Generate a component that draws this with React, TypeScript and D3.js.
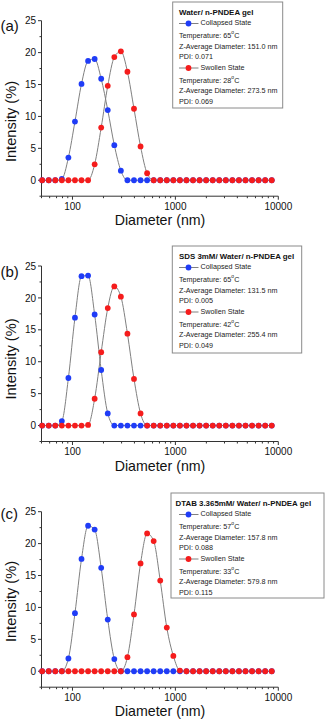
import React from 'react';
import * as d3 from 'd3';

// Malvern size bins (nm) shown on the plots
const SIZES = [50.75, 58.77, 68.06, 78.82, 91.28, 105.7, 122.4, 141.8, 164.2, 190.1, 220.2, 255.0,
  295.3, 342.0, 396.1, 458.7, 531.2, 615.1, 712.4, 825.0, 955.4, 1106, 1281, 1484, 1718, 1990,
  2305, 2669, 3091, 3580, 4145, 4801, 5560, 6439, 7456, 8635];

const COLLAPSED_A = [0, 0, 0, 0.2, 3.55, 9.2, 15.1, 18.7, 19.0, 15.9, 11.0, 5.5, 1.5, 0, 0, 0, 0, 0,
  0, 0, 0, 0, 0, 0, 0, 0, 0, 0, 0, 0, 0, 0, 0, 0, 0, 0];
const SWOLLEN_A = [0, 0, 0, 0, 0, 0, 0, 0, 2.5, 8.25, 14.8, 19.3, 20.2, 17.0, 11.2, 5.3, 1.1, 0,
  0, 0, 0, 0, 0, 0, 0, 0, 0, 0, 0, 0, 0, 0, 0, 0, 0, 0];
const COLLAPSED_B = [0, 0, 0, 0.7, 7.45, 16.9, 23.4, 23.5, 17.4, 8.7, 1.9, 0, 0, 0, 0, 0, 0, 0,
  0, 0, 0, 0, 0, 0, 0, 0, 0, 0, 0, 0, 0, 0, 0, 0, 0, 0];
const SWOLLEN_B = [0, 0, 0, 0, 0, 0, 0, 0.1, 4.2, 11.5, 18.4, 21.8, 20.2, 14.4, 7.3, 1.9, 0, 0,
  0, 0, 0, 0, 0, 0, 0, 0, 0, 0, 0, 0, 0, 0, 0, 0, 0, 0];
const COLLAPSED_C = [0, 0, 0, 0, 2.0, 9.1, 17.6, 22.8, 22.2, 16.2, 8.1, 1.9, 0, 0, 0, 0, 0, 0,
  0, 0, 0, 0, 0, 0, 0, 0, 0, 0, 0, 0, 0, 0, 0, 0, 0, 0];
const SWOLLEN_C = [0, 0, 0, 0, 0, 0, 0, 0, 0, 0, 0, 0, 0, 2.2, 8.9, 16.9, 21.6, 20.4, 14.2, 6.85,
  2.4, 0.1, 0, 0, 0, 0, 0, 0, 0, 0, 0, 0, 0, 0, 0, 0];

const PANEL_LABELS = ['(a)', '(b)', '(c)'];
const TITLES = ['Water/ n-PNDEA gel', 'SDS 3mM/ Water/ n-PNDEA gel', 'DTAB 3.365mM/ Water/ n-PNDEA gel'];
const SERIES_NAMES = ['Collapsed State', 'Swollen State'];
const TEMP_COLLAPSED = ['65', '65', '57'];
const ZAVG_COLLAPSED = ['151.0', '131.5', '157.8'];
const PDI_COLLAPSED = ['0.071', '0.005', '0.088'];
const TEMP_SWOLLEN = ['28', '42', '33'];
const ZAVG_SWOLLEN = ['273.5', '255.4', '579.8'];
const PDI_SWOLLEN = ['0.069', '0.049', '0.115'];
const Y_TICKS = [0, 5, 10, 15, 20, 25];
const X_TICKS = [100, 1000, 10000];

const BLUE = '#1f3cf7';
const RED = '#f51c1c';
const LINE = '#808080';
const AXIS = '#333';
const FONT = '"Liberation Sans", Arial, sans-serif';

// layout of each panel (top of y axis, legend box)
const LAYOUT = [
  { top: 20.7, labelY: 30.5, box: [172.7, 2, 110, 106], titleX: 179, xLabelDy: 29, yLabelY: 121.5 },
  { top: 266, labelY: 277, box: [172.3, 246, 129.4, 107], titleX: 179, xLabelDy: 29.7, yLabelY: 359 },
  { top: 511.7, labelY: 519, box: [171, 493, 153, 105], titleX: 175.5, xLabelDy: 28.6, yLabelY: 601.5 },
];

const DATA = [
  [COLLAPSED_A, SWOLLEN_A],
  [COLLAPSED_B, SWOLLEN_B],
  [COLLAPSED_C, SWOLLEN_C],
];

const LEG_OFF = [10.5, 21.5, 34, 44.8, 55.2, 66, 78.7, 89.3, 100];

function Temp({ x, y, t }: { x: number; y: number; t: string }) {
  return (
    <text x={x} y={y} fontSize={7.2} fill="#222" dominantBaseline="middle">
      Temperature: {t}
      <tspan fontSize={5} dy={-3}>o</tspan>
      <tspan dy={3}>C</tspan>
    </text>
  );
}

function Panel({ i }: { i: number }) {
  const L = LAYOUT[i];
  const x = d3.scaleLog().domain([50, 10000]).range([41.5, 278.3]);
  const y = d3.scaleLinear().domain([-2.5, 25]).range([L.top + 175.5, L.top]);
  const y0 = y(-2.5);
  const line = d3.line<number>()
    .x((_, j) => x(SIZES[j]))
    .y(d => y(d))
    .curve(d3.curveMonotoneX);

  const minorX: number[] = [];
  [10, 100, 1000].forEach(dec => {
    for (let k = 2; k <= 9; k++) {
      const v = dec * k;
      if (v >= 50 && v <= 10000) minorX.push(v);
    }
  });
  const minorY = [-2.5, 2.5, 7.5, 12.5, 17.5, 22.5];
  const [bx, by, bw, bh] = L.box;
  const tx = 179;
  const colors = [BLUE, RED];

  return (
    <g fontFamily={FONT}>
      <text x={0.5} y={L.labelY} fontSize={15} fill="#111">{PANEL_LABELS[i]}</text>

      {/* axes */}
      <line x1={x(50)} x2={x(50)} y1={y(25)} y2={y0} stroke={AXIS} strokeWidth={1} />
      <line x1={x(50)} x2={x(10000)} y1={y0} y2={y0} stroke={AXIS} strokeWidth={1} />
      {Y_TICKS.map(t => (
        <g key={t}>
          <line x1={x(50) - 3.5} x2={x(50)} y1={y(t)} y2={y(t)} stroke={AXIS} />
          <text x={36} y={y(t)} dy="0.36em" textAnchor="end" fontSize={10} fill="#111">{t}</text>
        </g>
      ))}
      {minorY.map(t => (
        <line key={t} x1={x(50) - 2} x2={x(50)} y1={y(t)} y2={y(t)} stroke={AXIS} />
      ))}
      {X_TICKS.map(t => (
        <g key={t}>
          <line x1={x(t)} x2={x(t)} y1={y0} y2={y0 + 3.5} stroke={AXIS} />
          <text x={x(t)} y={y0 + 13.5} textAnchor="middle" fontSize={10} fill="#111">{t}</text>
        </g>
      ))}
      {minorX.map(t => (
        <line key={t} x1={x(t)} x2={x(t)} y1={y0} y2={y0 + 2} stroke={AXIS} />
      ))}
      <text x={160} y={y0 + L.xLabelDy} textAnchor="middle" fontSize={14.2} fill="#111">Diameter (nm)</text>
      <text transform={`translate(15.5,${L.yLabelY}) rotate(-90)`} textAnchor="middle" fontSize={14.6} fill="#111">
        Intensity (%)
      </text>

      {/* curves */}
      {DATA[i].map((s, k) => (
        <path key={k} d={line(s) || ''} fill="none" stroke={LINE} strokeWidth={1} />
      ))}
      {DATA[i].map((s, k) => (
        <g key={k}>
          {s.map((v, j) => (
            <circle key={j} cx={x(SIZES[j])} cy={y(v)} r={2.9} fill={colors[k]} />
          ))}
        </g>
      ))}

      {/* legend */}
      <rect x={bx} y={by} width={bw} height={bh} fill="#fff" stroke="#8a8a8a" strokeWidth={1} />
      <text x={L.titleX} y={by + LEG_OFF[0]} fontSize={7.9} fontWeight="bold" fill="#111" dominantBaseline="middle">
        {TITLES[i]}
      </text>
      {[0, 1].map(k => {
        const temps = k === 0 ? TEMP_COLLAPSED : TEMP_SWOLLEN;
        const zs = k === 0 ? ZAVG_COLLAPSED : ZAVG_SWOLLEN;
        const pdis = k === 0 ? PDI_COLLAPSED : PDI_SWOLLEN;
        const ly = by + LEG_OFF[1 + k * 4];
        return (
          <g key={k}>
            <line x1={tx} x2={198.5} y1={ly} y2={ly} stroke={LINE} />
            <circle cx={188.5} cy={ly} r={2.9} fill={colors[k]} />
            <text x={200.5} y={ly} fontSize={7.2} fill="#222" dominantBaseline="middle">
              {SERIES_NAMES[k]}
            </text>
            <Temp x={tx} y={by + LEG_OFF[2 + k * 4]} t={temps[i]} />
            <text x={tx} y={by + LEG_OFF[3 + k * 4]} fontSize={7.2} fill="#222" dominantBaseline="middle">
              Z-Average Diameter: {zs[i]} nm
            </text>
            <text x={tx} y={by + LEG_OFF[4 + k * 4]} fontSize={7.2} fill="#222" dominantBaseline="middle">
              PDI: {pdis[i]}
            </text>
          </g>
        );
      })}
    </g>
  );
}

export default function App() {
  return (
    <svg width={325} height={720} style={{ position: 'absolute', left: 0, top: 0, background: '#fff' }}>
      <rect width={325} height={720} fill="#fff" />
      {[0, 1, 2].map(i => <Panel key={i} i={i} />)}
    </svg>
  );
}
